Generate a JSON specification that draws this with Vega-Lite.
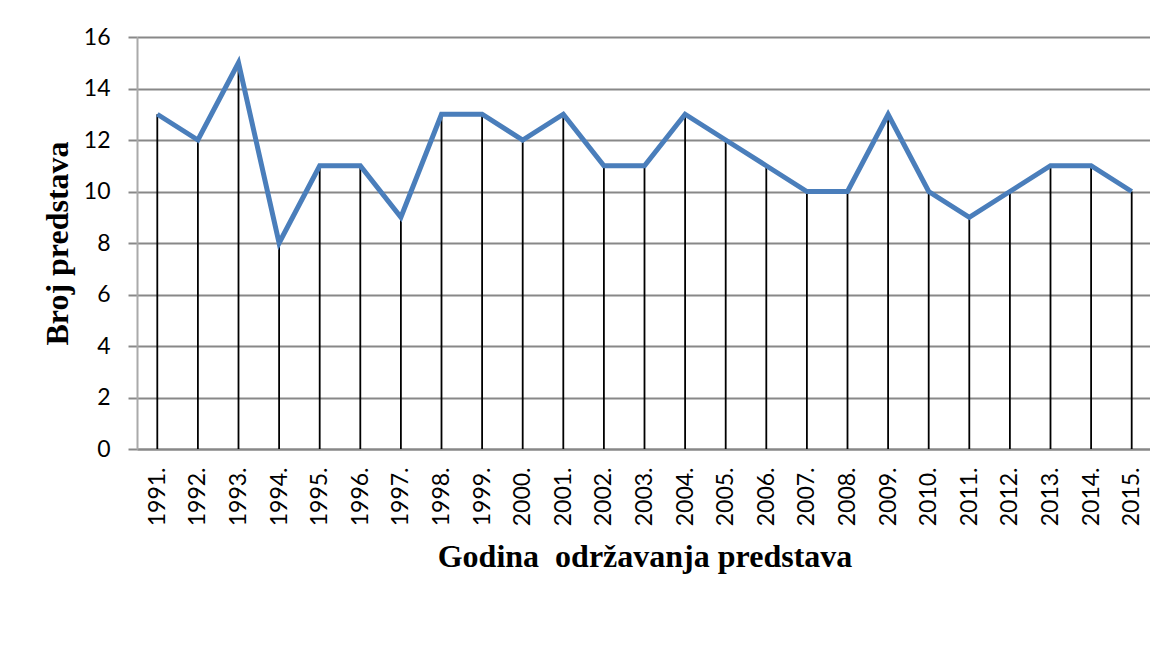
{
  "$schema": "https://vega.github.io/schema/vega-lite/v6.json",
  "autosize": "none",
  "padding": {"left": 137, "top": 37, "right": 0, "bottom": 185},
  "width": 1015,
  "height": 412,
  "background": "white",
  "data": {"values": [
    {"godina": "1991.", "broj": 13},
    {"godina": "1992.", "broj": 12},
    {"godina": "1993.", "broj": 15},
    {"godina": "1994.", "broj": 8},
    {"godina": "1995.", "broj": 11},
    {"godina": "1996.", "broj": 11},
    {"godina": "1997.", "broj": 9},
    {"godina": "1998.", "broj": 13},
    {"godina": "1999.", "broj": 13},
    {"godina": "2000.", "broj": 12},
    {"godina": "2001.", "broj": 13},
    {"godina": "2002.", "broj": 11},
    {"godina": "2003.", "broj": 11},
    {"godina": "2004.", "broj": 13},
    {"godina": "2005.", "broj": 12},
    {"godina": "2006.", "broj": 11},
    {"godina": "2007.", "broj": 10},
    {"godina": "2008.", "broj": 10},
    {"godina": "2009.", "broj": 13},
    {"godina": "2010.", "broj": 10},
    {"godina": "2011.", "broj": 9},
    {"godina": "2012.", "broj": 10},
    {"godina": "2013.", "broj": 11},
    {"godina": "2014.", "broj": 11},
    {"godina": "2015.", "broj": 10}
  ]},
  "encoding": {
    "x": {
      "field": "godina", "type": "ordinal", "sort": null,
      "scale": {"type": "point", "padding": 0.5},
      "axis": {
        "title": "Godina\u00a0 održavanja predstava",
        "titleFont": "Liberation Serif", "titleFontWeight": "bold", "titleFontSize": 32, "titleColor": "black",
        "titleY": 107, "titleBaseline": "middle",
        "labelAngle": -90, "labelAlign": "right", "labelBaseline": "middle",
        "labelFont": "Lato", "labelFontSize": 23, "labelColor": "black", "labelPadding": 18,
        "ticks": false, "tickSize": 0, "grid": false,
        "domainColor": "#888888", "domainWidth": 2
      }
    },
    "y": {
      "field": "broj", "type": "quantitative",
      "scale": {"domain": [0, 16], "nice": false},
      "axis": {
        "title": "Broj predstava", "values": [0, 2, 4, 6, 8, 10, 12, 14, 16],
        "titleFont": "Liberation Serif", "titleFontWeight": "bold", "titleFontSize": 32, "titleColor": "black",
        "titleX": -80, "titleY": 206, "titleAngle": -90, "titleBaseline": "middle", "titleAlign": "center",
        "labelFont": "Lato", "labelFontSize": 23, "labelColor": "black", "labelPadding": 18,
        "tickSize": 9, "tickColor": "#888888", "tickWidth": 2,
        "grid": true, "gridColor": "#888888", "gridWidth": 2,
        "domainColor": "#aaaaaa", "domainWidth": 2
      }
    }
  },
  "layer": [
    {
      "mark": {"type": "rule", "color": "black", "strokeWidth": 1.8},
      "encoding": {"y2": {"datum": 0}}
    },
    {
      "mark": {"type": "line", "color": "#4A7EBB", "strokeWidth": 5}
    }
  ],
  "config": {"view": {"stroke": null}}
}
